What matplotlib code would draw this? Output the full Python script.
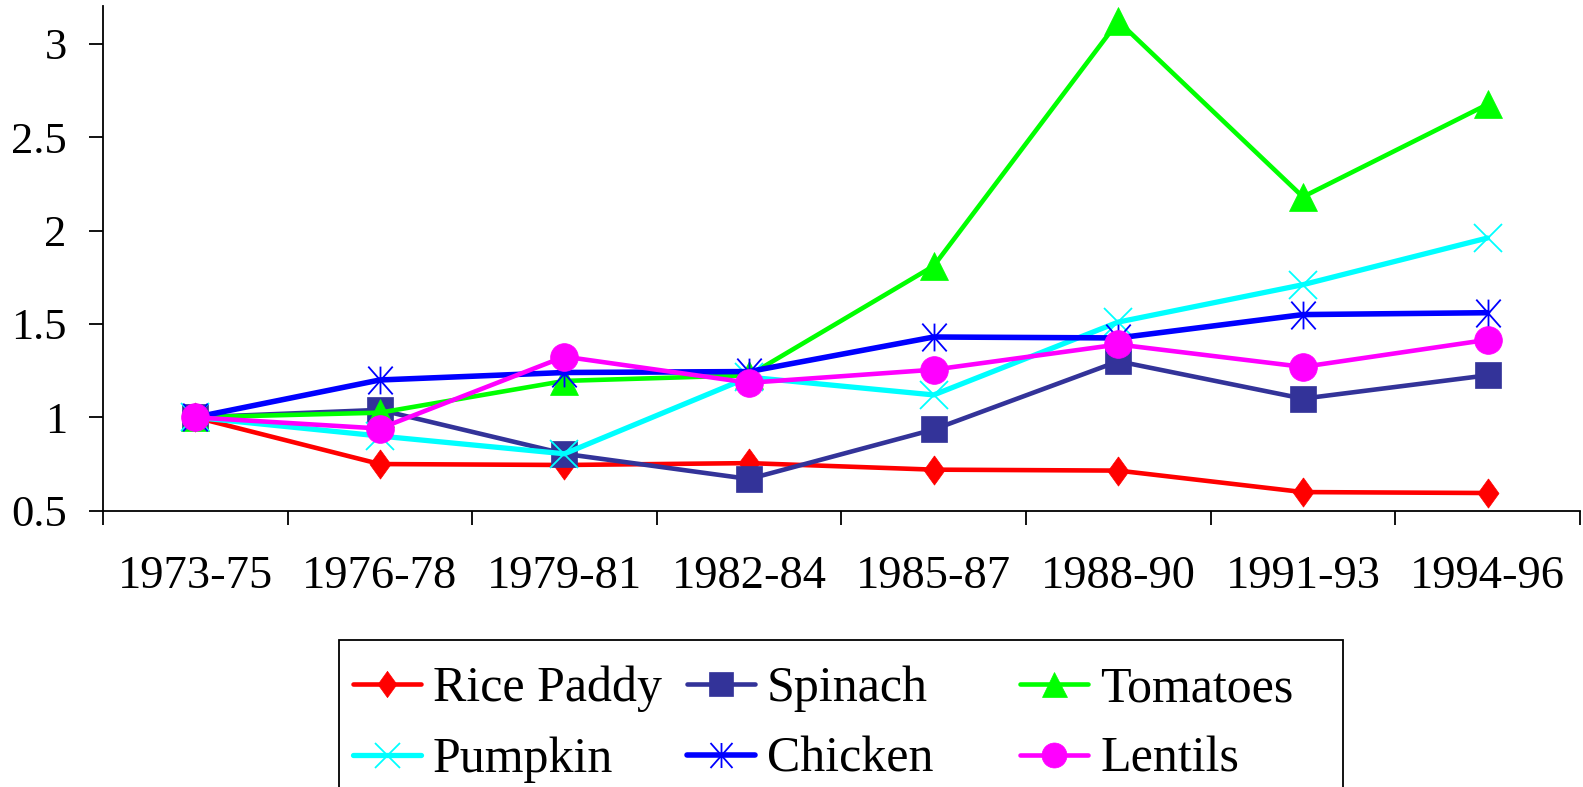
import matplotlib
matplotlib.use("Agg")
import matplotlib.pyplot as plt
from matplotlib.patches import Rectangle
from matplotlib.path import Path
import numpy as np

plt.rcParams["font.family"] = ["Liberation Serif", "DejaVu Serif"]
plt.rcParams["lines.solid_capstyle"] = "round"

periods = ["1973-75", "1976-78", "1979-81", "1982-84",
           "1985-87", "1988-90", "1991-93", "1994-96"]

rice_paddy = [1.0, 0.75, 0.745, 0.755, 0.72, 0.715, 0.60, 0.595]
spinach = [1.0, 1.04, 0.805, 0.67, 0.935, 1.30, 1.10, 1.225]
tomatoes = [1.0, 1.025, 1.195, 1.225, 1.81, 3.12, 2.18, 2.675]
pumpkin = [1.0, 0.90, 0.805, 1.215, 1.12, 1.51, 1.71, 1.96]
chicken = [1.0, 1.20, 1.24, 1.245, 1.43, 1.425, 1.55, 1.56]
lentils = [1.0, 0.94, 1.325, 1.185, 1.255, 1.39, 1.27, 1.415]

# tall diamond and an asterisk (vertical bar + two corner diagonals)
diamond = [(0, 1), (0.72, 0), (0, -1), (-0.72, 0), (0, 1)]
asterisk = Path([(0, -1), (0, 1), (-0.88, -1), (0.88, 1), (-0.88, 1), (0.88, -1)],
                [Path.MOVETO, Path.LINETO] * 3)

series = [
    ("Rice Paddy", rice_paddy, "#FF0000", diamond, 21, 3.3),
    ("Spinach", spinach, "#333399", "s", 19, 3.3),
    ("Tomatoes", tomatoes, "#00FF00", "^", 20, 3.3),
    ("Pumpkin", pumpkin, "#00FFFF", "x", 20, 3.8),
    ("Chicken", chicken, "#0000FF", asterisk, 20, 4.0),
    ("Lentils", lentils, "#FF00FF", "o", 20, 3.3),
]

fig = plt.figure(figsize=(15.83, 7.87), dpi=100)
ax = fig.add_axes([0.065, 0.351, 0.933, 0.641])

x = np.arange(len(periods))
handles = {}
for name, vals, color, marker, ms, lw in series:
    thin = name in ("Pumpkin", "Chicken")
    (ln,) = ax.plot(x, vals, color=color, lw=lw, marker=marker, ms=ms,
                    mfc="none" if thin else color, mec=color,
                    mew=1.3 if thin else 0.5, label=name)
    handles[name] = ln

ax.set_xlim(-0.5, len(periods) - 0.5)
ax.set_ylim(0.5, 3.2)
ax.set_yticks([0.5, 1, 1.5, 2, 2.5, 3])
ax.set_yticklabels(["0.5", "1", "1.5", "2", "2.5", "3"])
ax.set_xticks(x)
ax.set_xticklabels(periods)
ax.set_xticks(np.arange(-0.5, len(periods)), minor=True)

for side in ("top", "right"):
    ax.spines[side].set_visible(False)
for side in ("left", "bottom"):
    ax.spines[side].set_linewidth(1.3)

ax.tick_params(axis="x", which="major", length=0, pad=32, labelsize=33.5)
ax.tick_params(axis="x", which="minor", length=10, width=1.3, direction="out")
ax.tick_params(axis="y", length=10, width=1.3, direction="out", pad=16, labelsize=32)

# legend: three fixed-position columns inside one open-bottom frame
W, H = fig.get_size_inches() * fig.dpi
columns = [("Rice Paddy", "Pumpkin"), ("Spinach", "Chicken"), ("Tomatoes", "Lentils")]
col_left = [353, 687, 1020]
for names, left in zip(columns, col_left):
    fig.legend([handles[n] for n in names], names, loc="upper left",
               bbox_to_anchor=(left / W, 1 - 666 / H), frameon=False,
               fontsize=36, markerscale=0.9, handlelength=1.36,
               handletextpad=0.24, borderpad=0, borderaxespad=0,
               labelspacing=0.48)
fig.add_artist(Rectangle((339 / W, -0.05), (1343 - 339) / W, 0.05 + 1 - 640 / H,
                         transform=fig.transFigure, fill=False,
                         edgecolor="black", linewidth=1.3))

fig.savefig("out.png", dpi=100)
